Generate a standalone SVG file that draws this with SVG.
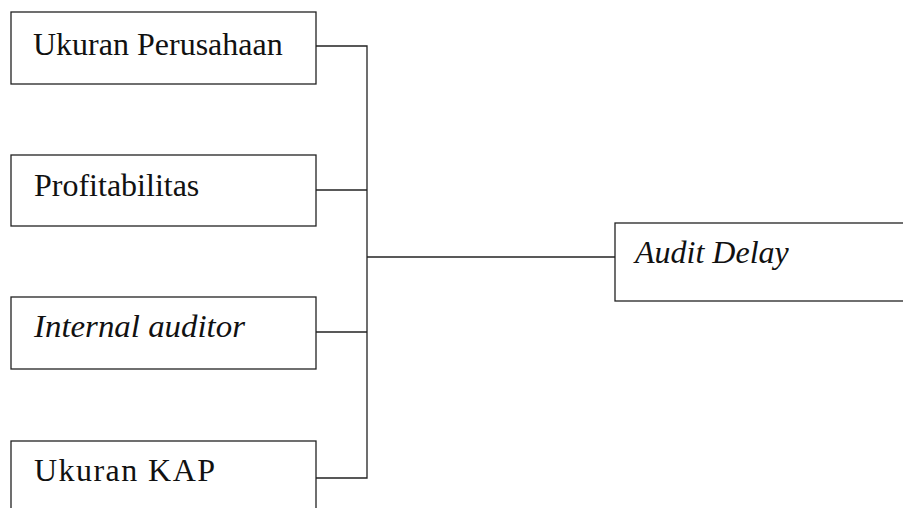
<svg xmlns="http://www.w3.org/2000/svg" width="903" height="508" viewBox="0 0 903 508">
<style>
.box{fill:#fff;stroke:#222;stroke-width:1.3}
.lbl{font-family:"Liberation Serif","Times New Roman",serif;font-size:32px;fill:#111}
.it{font-style:italic}
.ln{fill:none;stroke:#222;stroke-width:1.3}
</style>
<rect width="903" height="508" fill="#fff"/>
<g id="connectors">
<polyline class="ln" points="316,46 367,46 367,478 316,478"/>
<line class="ln" x1="316" y1="190" x2="367" y2="190"/>
<line class="ln" x1="316" y1="332" x2="367" y2="332"/>
<line class="ln" x1="367" y1="257" x2="615" y2="257"/>
</g>
<g id="n1"><rect class="box" x="11" y="12" width="305" height="72"/><text class="lbl" x="33" y="55">Ukuran Perusahaan</text></g>
<g id="n2"><rect class="box" x="11" y="155" width="305" height="71"/><text class="lbl" x="34" y="196">Profitabilitas</text></g>
<g id="n3"><rect class="box" x="11" y="297" width="305" height="72"/><text class="lbl it" x="34" y="337" textLength="211" lengthAdjust="spacingAndGlyphs">Internal auditor</text></g>
<g id="n4"><rect class="box" x="11" y="441" width="305" height="80"/><text class="lbl" x="34" y="481" textLength="181" lengthAdjust="spacing">Ukuran KAP</text></g>
<g id="n5"><rect class="box" x="615" y="223" width="300" height="78"/><text class="lbl it" x="635" y="263">Audit Delay</text></g>
</svg>
